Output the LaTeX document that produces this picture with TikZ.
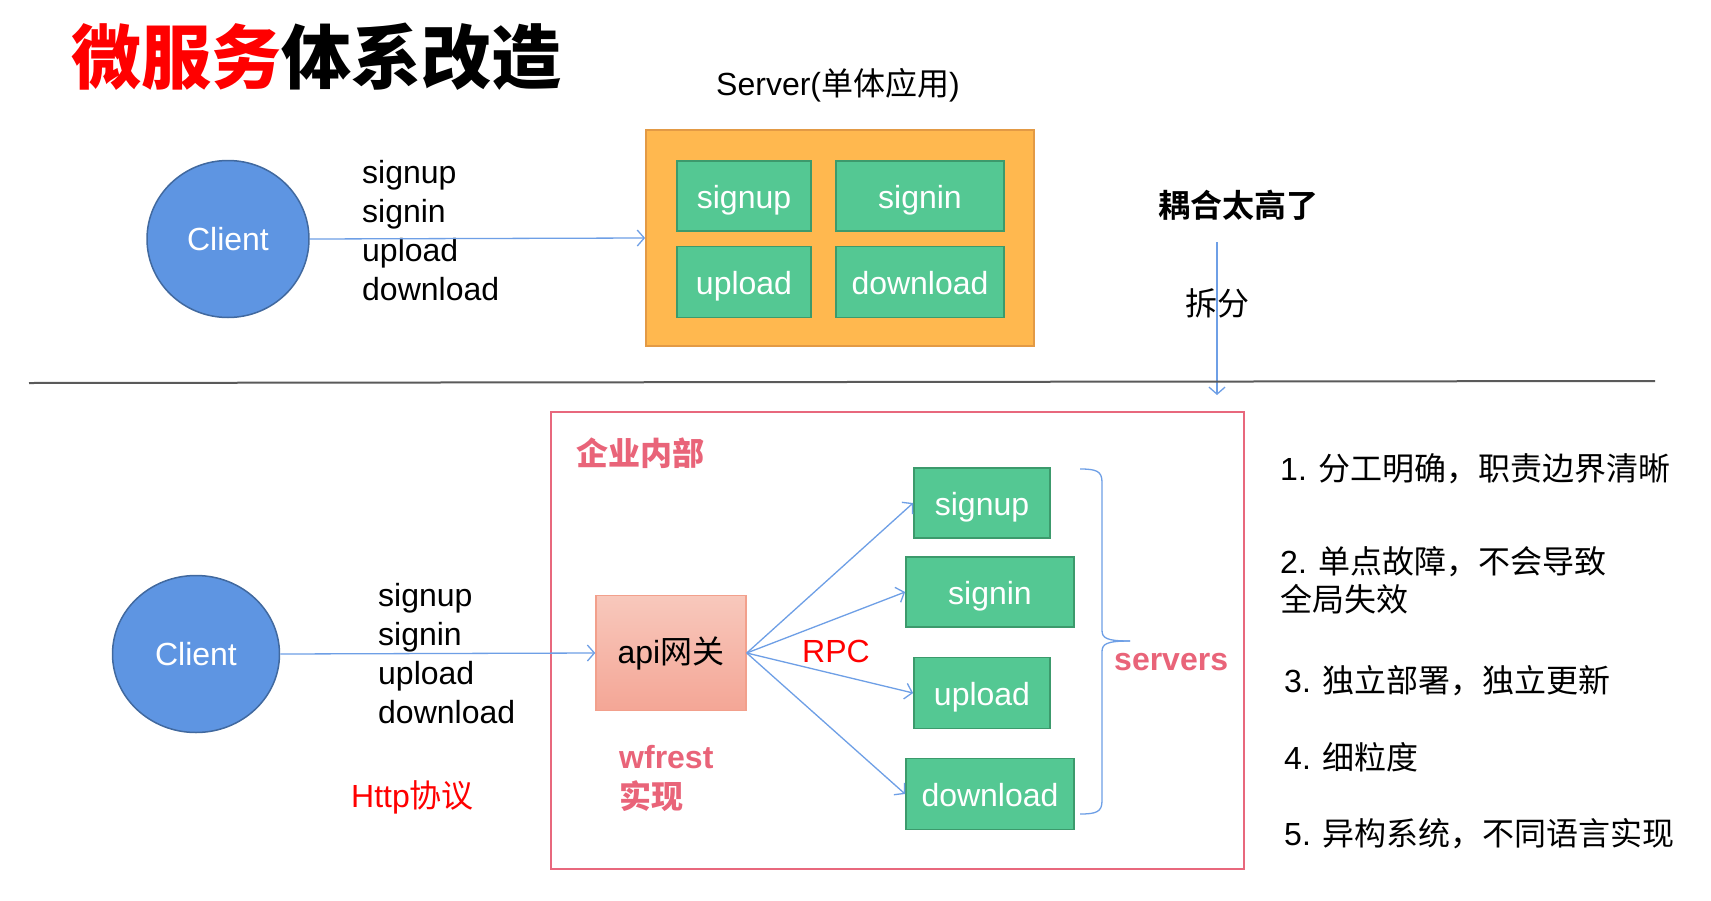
\documentclass[tikz,border=0pt]{standalone}
\usepackage{fontspec}
\setmainfont{Liberation Sans}
\newfontfamily\cjk{Noto Sans CJK SC}
\newfontfamily\cjkbold{Noto Sans CJK SC Bold}
\newfontfamily\cjkblack{Noto Sans CJK SC Black}
\usetikzlibrary{arrows.meta,shapes.geometric}
\newcommand\fsz[2]{\fontsize{#1}{#2}\selectfont}
\definecolor{cblue}{HTML}{5E95E2}
\definecolor{cblueB}{HTML}{41699F}
\definecolor{arrblue}{HTML}{6E9FE6}
\definecolor{grn}{HTML}{54C893}
\definecolor{grnB}{HTML}{3C9A6C}
\definecolor{org}{HTML}{FFB84F}
\definecolor{orgB}{HTML}{E39A45}
\definecolor{pinkB}{HTML}{E8687D}
\definecolor{pinkT}{HTML}{E96479}
\definecolor{salT}{HTML}{F8C8BC}
\definecolor{salB}{HTML}{F4A696}
\definecolor{salD}{HTML}{F2A08C}
\definecolor{divgray}{HTML}{5A5A5A}
\tikzset{
  arr/.style={draw=arrblue, line width=1.3pt, -{Straight Barb[length=7pt,width=16pt,line width=1.3pt]}},
  gbox/.style={rectangle, draw=grnB, fill=grn, line width=1.8pt, text=white, font=\fsz{32}{38}, inner sep=0pt, text height=26pt, text depth=2pt},
  client/.style={ellipse, draw=cblueB, fill=cblue, line width=1.5pt, text=white, font=\fsz{32}{38}, inner sep=0pt},
  lbl/.style={font=\fsz{32}{39}, inner sep=0pt, align=left},
  itm/.style={anchor=west, font=\fsz{32}{38}, inner sep=0pt, align=left},
  pinkbold/.style={text=pinkT, font=\fsz{32}{40}\bfseries, inner sep=0pt},
}
\begin{document}
\begin{tikzpicture}[x=1pt, y={(0,-1pt)}]
\useasboundingbox (0,0) rectangle (1711,900);
\fill[white] (0,0) rectangle (1711,900);

% title
\node[anchor=west, inner sep=0pt, font=\fsz{70}{80}] (title) at (71,57)
  {\cjkblack\textcolor{red}{微服务}\textcolor{black}{体系改造}};

% ---------- top section ----------
\node[client, minimum width=162pt, minimum height=157pt] (c1) at (228,239) {Client};
\node[lbl, anchor=west] (req1) at (362,231) {signup\\signin\\upload\\download};
\node[rectangle, draw=orgB, fill=org, line width=1.8pt, minimum width=388pt, minimum height=216pt, inner sep=0pt] (srv) at (840,238) {};
\node[inner sep=0pt, font=\fsz{32}{38}] (srvlbl) at (838,85) {Server({\cjk 单体应用})};
\node[gbox, minimum width=134pt, minimum height=70pt] (t1) at (744,196) {signup};
\node[gbox, minimum width=168pt, minimum height=70pt] (t2) at (920,196) {signin};
\node[gbox, minimum width=134pt, minimum height=71pt] (t3) at (744,282) {upload};
\node[gbox, minimum width=168pt, minimum height=71pt] (t4) at (920,282) {download};
\draw[arr] (c1.east) -- (srv.west);

\node[inner sep=0pt, font=\fsz{32}{38}] (couple) at (1238,205) {\cjkbold 耦合太高了};
\coordinate (sA) at (1217,242);
\coordinate (sB) at (1217,395);
\draw[arr] (sA) -- (sB);
\node[inner sep=0pt, font=\fsz{32}{38}] (split) at (1217,303) {\cjk 拆分};

% divider
\coordinate (dA) at (29,383);
\coordinate (dB) at (1655,381);
\draw[divgray, line width=2pt] (dA) -- (dB);

% ---------- bottom section ----------
\node[rectangle, draw=pinkB, line width=2pt, minimum width=693pt, minimum height=457pt, inner sep=0pt] (ent) at (897.5,640.5) {};
\node[pinkbold, anchor=west] (entlbl) at (576,453) {\cjkbold 企业内部};

\node[client, minimum width=167pt, minimum height=157pt] (c2) at (196,654) {Client};
\node[lbl, anchor=west] (req2) at (378,654) {signup\\signin\\upload\\download};
\node[inner sep=0pt, font=\fsz{32}{38}, text=red, anchor=west] (http) at (351,797) {Http{\cjk 协议}};

\node[rectangle, draw=salD, line width=1.5pt, top color=salT, bottom color=salB, minimum width=150pt, minimum height=115pt, inner sep=0pt, font=\fsz{32}{38}] (api) at (671,653) {api{\cjk 网关}};
\node[pinkbold, anchor=west, align=left] (wf) at (619,778) {wfrest\\{\cjkbold 实现}};
\node[inner sep=0pt, font=\fsz{32}{38}, text=red] (rpc) at (836,651) {RPC};

\node[gbox, minimum width=136pt, minimum height=70pt] (b1) at (982,503) {signup};
\node[gbox, minimum width=168pt, minimum height=70pt] (b2) at (990,592) {signin};
\node[gbox, minimum width=136pt, minimum height=71pt] (b3) at (982,693) {upload};
\node[gbox, minimum width=168pt, minimum height=71pt] (b4) at (990,794) {download};

\draw[arr] (c2.east) -- (api.west);
\draw[arr] (api.east) -- (b1.west);
\draw[arr] (api.east) -- (b2.west);
\draw[arr] (api.east) -- (b3.west);
\draw[arr] (api.east) -- (b4.west);

% brace
\draw[arrblue, line width=1.3pt]
  (1080,469) .. controls (1096,469) and (1102,471) .. (1102,482)
  -- (1102,630) .. controls (1102,638) and (1106,641) .. (1130,641);
\draw[arrblue, line width=1.3pt]
  (1080,814) .. controls (1096,814) and (1102,812) .. (1102,801)
  -- (1102,652) .. controls (1102,644) and (1106,641) .. (1130,641);
\node[pinkbold, anchor=west] (srvs) at (1114,662) {servers};

% right list
\node[itm] (i1) at (1280,469) {1. {\cjk 分工明确，职责边界清晰}};
\node[itm] (i2) at (1280,580) {2. {\cjk 单点故障，不会导致}\\{\cjk 全局失效}};
\node[itm] (i3) at (1284,681) {3. {\cjk 独立部署，独立更新}};
\node[itm] (i4) at (1284,757) {4. {\cjk 细粒度}};
\node[itm] (i5) at (1284,834) {5. {\cjk 异构系统，不同语言实现}};
\end{tikzpicture}
\end{document}
